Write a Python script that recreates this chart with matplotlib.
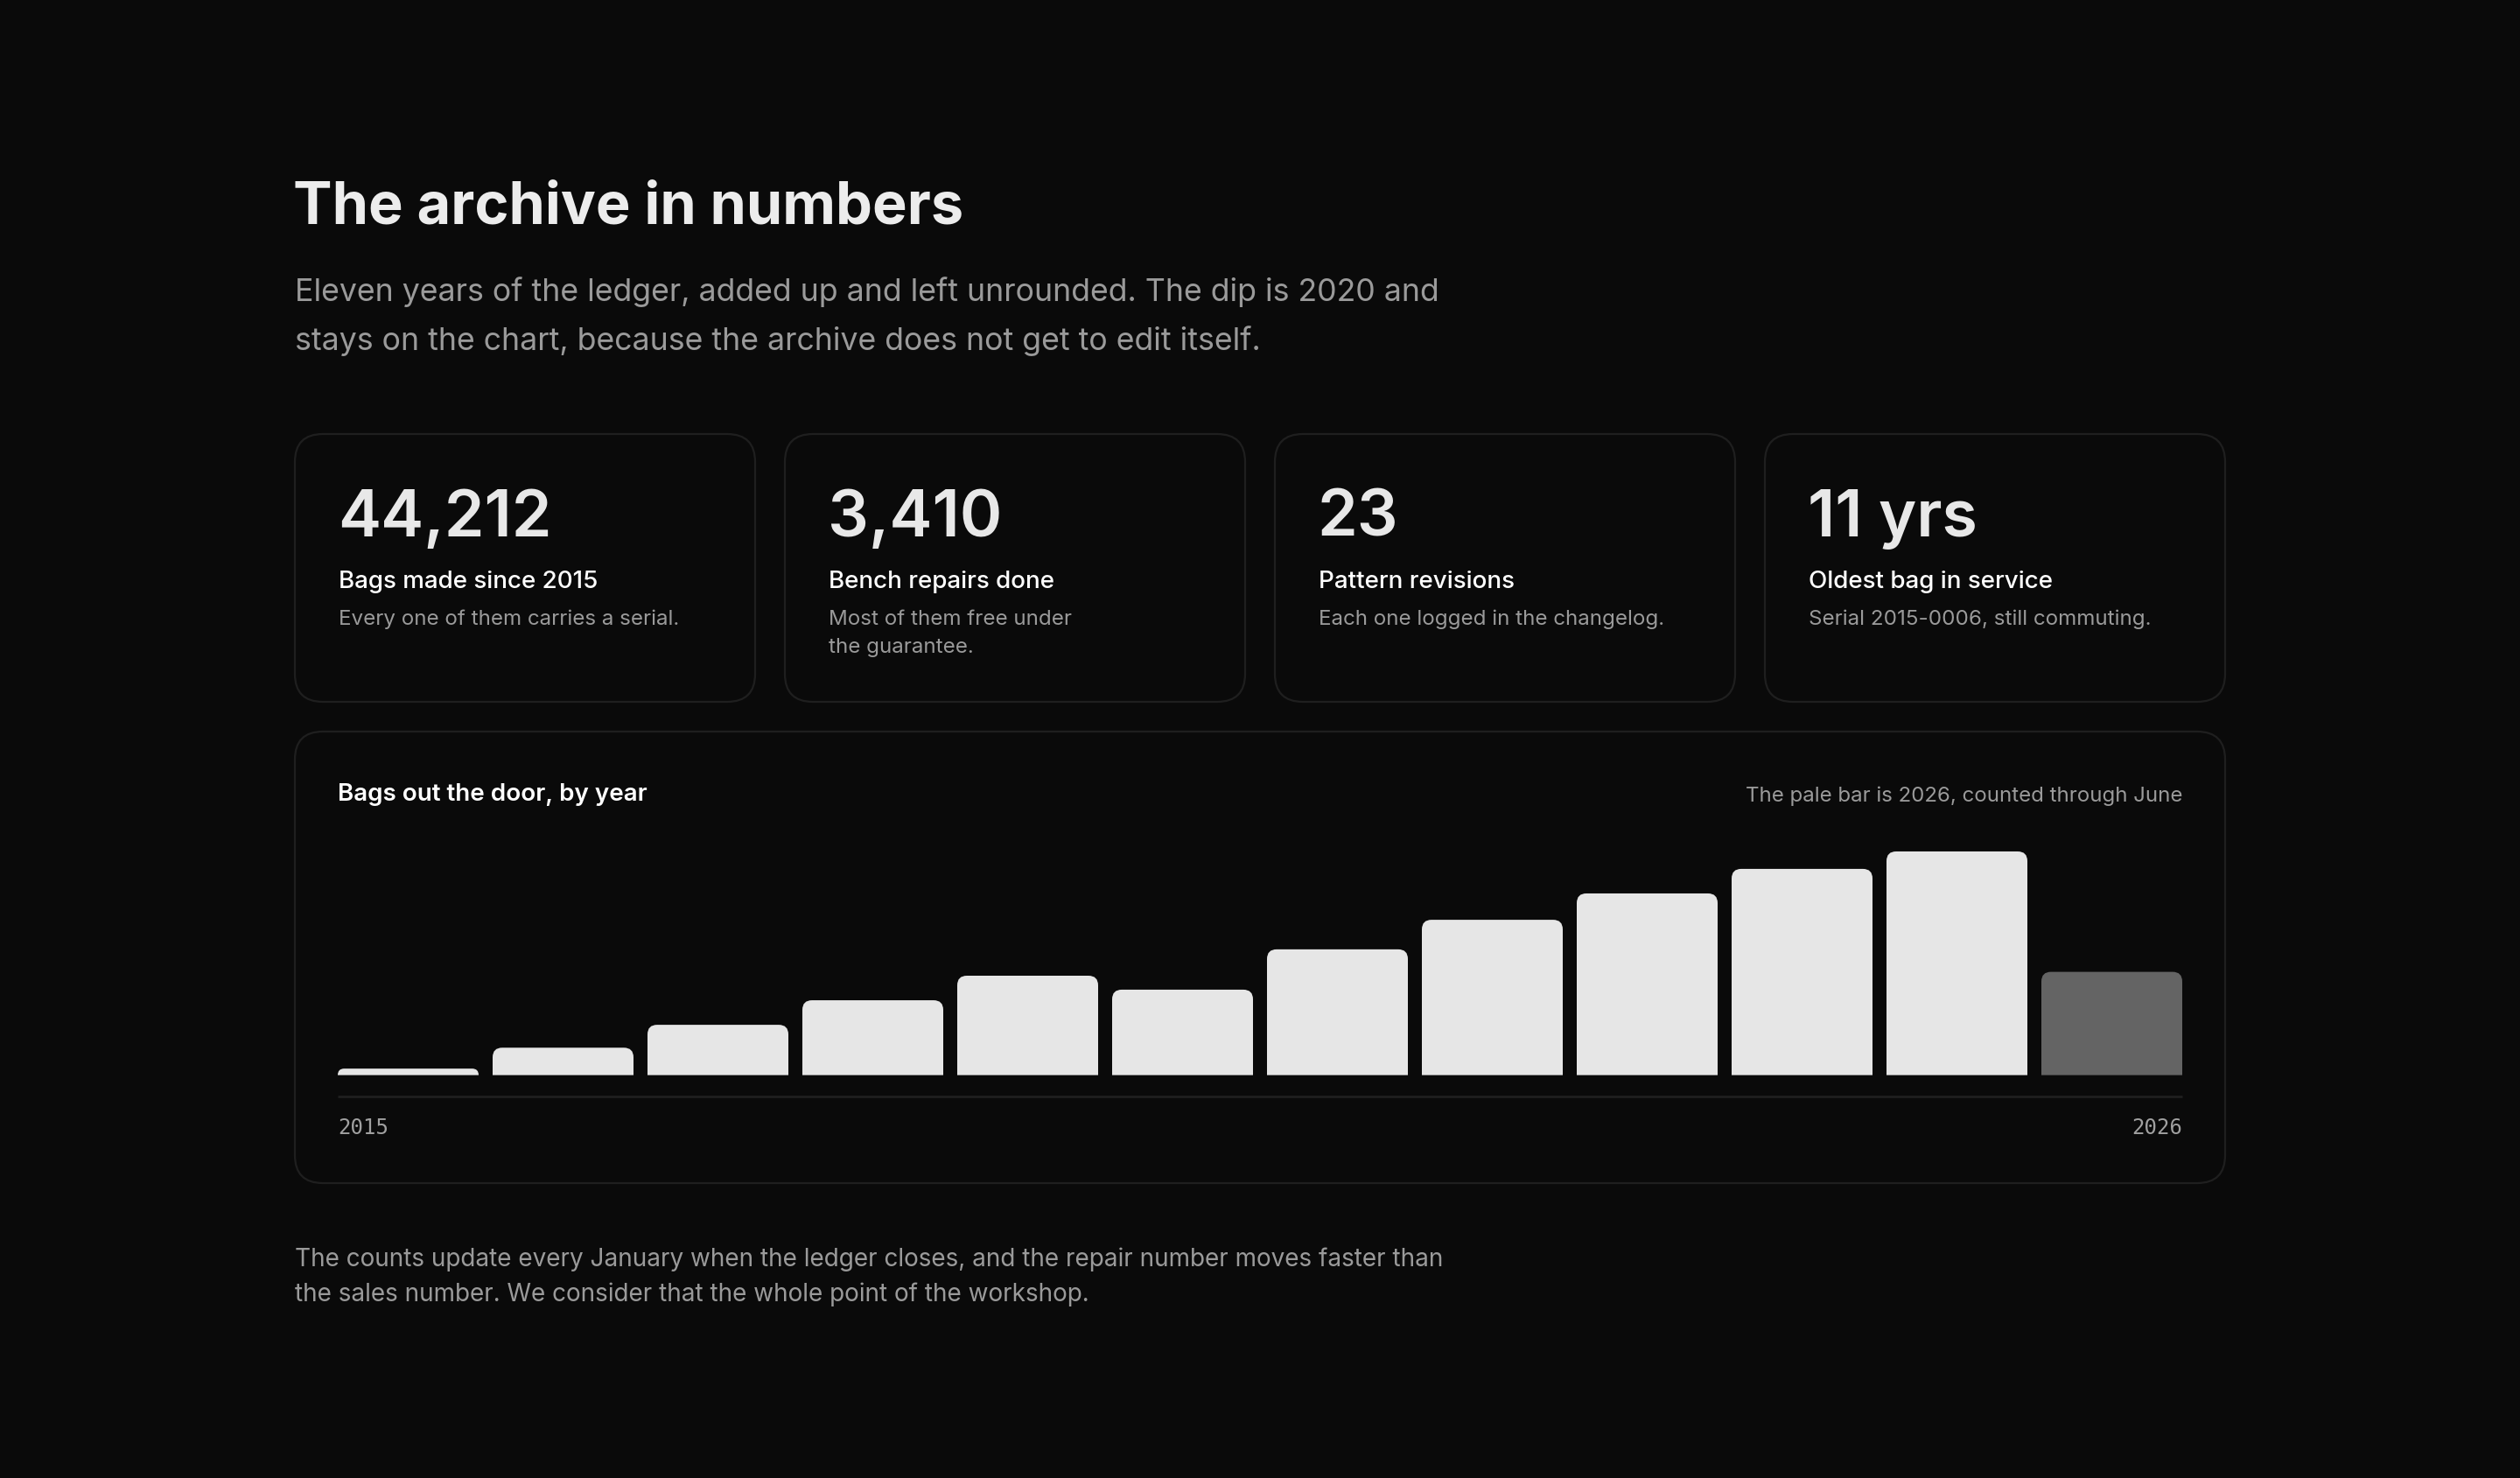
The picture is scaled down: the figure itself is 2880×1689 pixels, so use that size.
import numpy as np
import matplotlib
matplotlib.use("Agg")
import matplotlib.pyplot as plt
from matplotlib.patches import FancyBboxPatch, PathPatch
from matplotlib.path import Path

# data
years = [2015, 2016, 2017, 2018, 2019, 2020, 2021, 2022, 2023, 2024, 2025, 2026]
bags = [215, 905, 1660, 2470, 3280, 2820, 4150, 5125, 5995, 6805, 7380, 3407]
partial_year = 2026

stat_values = ["44,212", "3,410", "23", "11 yrs"]
stat_titles = ["Bags made since 2015", "Bench repairs done", "Pattern revisions", "Oldest bag in service"]
stat_notes = [["Every one of them carries a serial."],
              ["Most of them free under", "the guarantee."],
              ["Each one logged in the changelog."],
              ["Serial 2015-0006, still commuting."]]

title = "The archive in numbers"
subtitle = ["Eleven years of the ledger, added up and left unrounded. The dip is 2020 and",
            "stays on the chart, because the archive does not get to edit itself."]
chart_title = "Bags out the door, by year"
chart_note = "The pale bar is 2026, counted through June"
footer = ["The counts update every January when the ledger closes, and the repair number moves faster than",
          "the sales number. We consider that the whole point of the workshop."]

BG = "#0a0a0a"
EDGE = "#1f1f1f"
GREY = "#9a9a9a"
W, H = 2880, 1690
FONT = ["Inter", "DejaVu Sans"]

plt.rcParams["font.family"] = FONT

fig = plt.figure(figsize=(W / 100, H / 100), dpi=100, facecolor=BG)
bg = fig.add_axes([0, 0, 1, 1])
bg.set_xlim(0, W)
bg.set_ylim(H, 0)
bg.axis("off")
bg.set_facecolor(BG)


def card(x, y, w, h):
    p = FancyBboxPatch((x, y), w, h, boxstyle="round,pad=0,rounding_size=32",
                       facecolor=BG, edgecolor=EDGE, linewidth=1.6)
    bg.add_patch(p)


def lines(x, y, texts, step, **kw):
    for k, t in enumerate(texts):
        bg.text(x, y + k * step, t, va="baseline", **kw)


# header
bg.text(335, 256, title, fontsize=48, fontweight="bold", color="#ececec", va="baseline")
lines(337, 344, subtitle, 56, fontsize=25.7, color=GREY)

# stat cards
for i in range(4):
    x0 = 337 + i * 560
    card(x0, 497, 526, 306)
    bg.text(x0 + 49, 613, stat_values[i], fontsize=53, fontweight="semibold",
            color="#e8e8e8", va="baseline")
    bg.text(x0 + 50, 672, stat_titles[i], fontsize=20, fontweight="medium",
            color="#ffffff", va="baseline")
    lines(x0 + 50, 714, stat_notes[i], 32, fontsize=17.4, color=GREY)

# chart card
card(337, 837, 2206, 516)
bg.text(386, 915, chart_title, fontsize=20, fontweight="semibold", color="#ffffff", va="baseline")
bg.text(2494, 916, chart_note, fontsize=17.3, color=GREY, va="baseline", ha="right")
bg.plot([386, 2494], [1254, 1254], color=EDGE, lw=2, solid_capstyle="butt")
bg.text(386, 1296, str(years[0]), fontsize=17.3, family="DejaVu Sans Mono", color="#a0a0a0", va="baseline")
bg.text(2494, 1296, str(years[-1]), fontsize=17.3, family="DejaVu Sans Mono", color="#a0a0a0",
        va="baseline", ha="right")

# footer
lines(337, 1447, footer, 40.5, fontsize=20.1, color=GREY)

# bars
bx0, bx1, base, top = 386, 2494, 1229.6, 974
ax = fig.add_axes([bx0 / W, (H - base) / H, (bx1 - bx0) / W, (base - top) / H])
ax.set_facecolor("none")
ax.axis("off")
n = len(years)
bw = 161 / 177
ax.set_xlim(-bw / 2, n - 1 + bw / 2)
ax.set_ylim(0, max(bags))

px_x = (bx1 - bx0) / (n - 1 + bw)
px_y = (base - top) / max(bags)
r_px = 11


def rounded_bar(xc, h, color):
    x0, x1 = xc - bw / 2, xc + bw / 2
    rp = min(r_px, h * px_y)
    rx, ry = rp / px_x, rp / px_y
    verts = [(x0, 0), (x0, h - ry), (x0, h), (x0 + rx, h), (x1 - rx, h),
             (x1, h), (x1, h - ry), (x1, 0), (x0, 0)]
    codes = [Path.MOVETO, Path.LINETO, Path.CURVE3, Path.CURVE3, Path.LINETO,
             Path.CURVE3, Path.CURVE3, Path.LINETO, Path.CLOSEPOLY]
    ax.add_patch(PathPatch(Path(verts, codes), facecolor=color, edgecolor="none"))


for i, (yr, v) in enumerate(zip(years, bags)):
    rounded_bar(i, v, "#646464" if yr == partial_year else "#e6e6e6")

fig.savefig("out.png", dpi=100, facecolor=BG)
